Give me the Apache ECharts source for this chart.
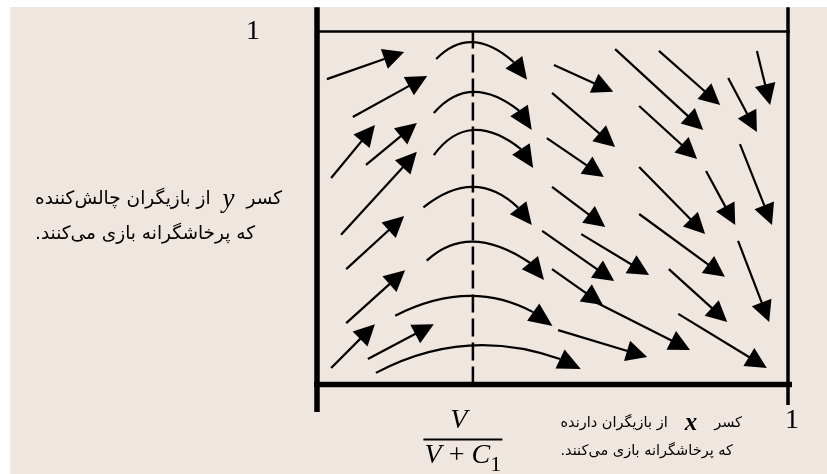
<!DOCTYPE html>
<html>
<head>
<meta charset="utf-8">
<script src="https://cdn.jsdelivr.net/npm/echarts@6/dist/echarts.min.js"></script>
<style>
  html, body { margin: 0; padding: 0; background: #fff; }
  #chart { position: absolute; left: 10px; top: 7px; width: 817px; height: 467px; }
</style>
</head>
<body>
<div id="chart"></div>
<script>
// phase portrait of the owner / challenger hawk-dove game
// x = share of owners playing hawk, y = share of challengers playing hawk
const dashX = 0.331; // V / (V + C1)

const xTickValues = [dashX, 1];
const xTickLabels = [
  '{num|V}{gapN| }\n{bar| }{gap| }\n{v|V}{op| + }{v|C}{sub|1}{gap| }',
  '{one|1}'
];
const yTickValues = [1];
const yTickLabels = ['1'];

// straight arrows: [tailX, tailY, tipX, tipY]
const leftArrows = [
  [0.021, 0.865, 0.185, 0.942],
  [0.076, 0.758, 0.234, 0.874],
  [0.030, 0.585, 0.123, 0.735],
  [0.104, 0.622, 0.212, 0.741],
  [0.051, 0.424, 0.212, 0.659],
  [0.062, 0.327, 0.185, 0.477],
  [0.062, 0.174, 0.187, 0.324],
  [0.030, 0.047, 0.123, 0.171],
  [0.108, 0.072, 0.248, 0.171]
];
const rightArrows = [
  [0.503, 0.905, 0.629, 0.829],
  [0.499, 0.826, 0.633, 0.673],
  [0.488, 0.698, 0.609, 0.588],
  [0.633, 0.950, 0.820, 0.721],
  [0.726, 0.945, 0.856, 0.792],
  [0.873, 0.868, 0.934, 0.715],
  [0.934, 0.945, 0.962, 0.792],
  [0.684, 0.789, 0.807, 0.639],
  [0.684, 0.616, 0.824, 0.426],
  [0.826, 0.605, 0.888, 0.452],
  [0.898, 0.681, 0.966, 0.452],
  [0.499, 0.560, 0.612, 0.446],
  [0.478, 0.435, 0.631, 0.293],
  [0.561, 0.426, 0.705, 0.310],
  [0.684, 0.483, 0.866, 0.305],
  [0.894, 0.407, 0.960, 0.177],
  [0.499, 0.327, 0.607, 0.225],
  [0.595, 0.231, 0.792, 0.098],
  [0.747, 0.327, 0.871, 0.177],
  [0.767, 0.200, 0.955, 0.047],
  [0.512, 0.154, 0.701, 0.078]
];

// curved arrows over the dashed line:
// [startX, startY, apexX, apexY, headBaseX, headBaseY, tipX, tipY]
const arcArrows = [
  [0.253, 0.922, 0.331, 0.970, 0.418, 0.913, 0.446, 0.863],
  [0.248, 0.769, 0.331, 0.829, 0.429, 0.776, 0.456, 0.721],
  [0.248, 0.650, 0.331, 0.721, 0.433, 0.667, 0.459, 0.613],
  [0.226, 0.502, 0.331, 0.560, 0.427, 0.501, 0.456, 0.452],
  [0.233, 0.351, 0.332, 0.405, 0.452, 0.345, 0.482, 0.296],
  [0.166, 0.195, 0.318, 0.251, 0.459, 0.205, 0.500, 0.166],
  [0.125, 0.033, 0.318, 0.110, 0.516, 0.072, 0.560, 0.044]
];

// frame lines, running a little past the unit square
const leftAxisLine = [[0, -0.078], [0, 1.069]];
const bottomAxisLine = [[-0.064, 0], [1.062, 0]];
const topLine = [[-0.042, 1], [1.064, 1]];
const rightLine = [[1, -0.058], [1, 1.069]];
const dashLine = [[dashX, 0], [dashX, 1]];

const yCaption = '{fa|از بازیگران چالش\u200cکننده}{v|y}{fa|کسر}\n{fa|که پرخاشگرانه بازی می\u200cکنند.\u200f}';
const xCaption = '{fa|از بازیگران دارنده}{v|x}{fa|کسر}\n{fa|که پرخاشگرانه بازی می\u200cکنند.\u200f}';

const INK = '#000';
const HEAD_LEN = 21;
const HEAD_W = 10.5;
const SERIF = '"Liberation Serif", "DejaVu Serif", serif';
const FA_FONT = '"DejaVu Sans", sans-serif';

function head(base, tip) {
  const dx = tip[0] - base[0], dy = tip[1] - base[1];
  const len = Math.hypot(dx, dy) || 1;
  const nx = -dy / len * HEAD_W, ny = dx / len * HEAD_W;
  return {
    type: 'polygon',
    shape: { points: [tip, [base[0] + nx, base[1] + ny], [base[0] - nx, base[1] - ny]] },
    style: { fill: INK }
  };
}

function renderStraight(params, api) {
  const a = api.coord([api.value(0), api.value(1)]);
  const b = api.coord([api.value(2), api.value(3)]);
  const len = Math.hypot(b[0] - a[0], b[1] - a[1]);
  const ux = (b[0] - a[0]) / len, uy = (b[1] - a[1]) / len;
  const base = [b[0] - ux * HEAD_LEN, b[1] - uy * HEAD_LEN];
  return {
    type: 'group',
    children: [
      {
        type: 'line',
        shape: { x1: a[0], y1: a[1], x2: base[0] + ux * 3, y2: base[1] + uy * 3 },
        style: { stroke: INK, lineWidth: 2.2 }
      },
      head(base, b)
    ]
  };
}

function renderArc(params, api) {
  const s = api.coord([api.value(0), api.value(1)]);
  const p = api.coord([api.value(2), api.value(3)]);
  const e = api.coord([api.value(4), api.value(5)]);
  const t = api.coord([api.value(6), api.value(7)]);
  // quadratic curve that passes through the apex halfway
  const cx = 2 * p[0] - (s[0] + e[0]) / 2;
  const cy = 2 * p[1] - (s[1] + e[1]) / 2;
  return {
    type: 'group',
    children: [
      {
        type: 'bezierCurve',
        shape: { x1: s[0], y1: s[1], x2: e[0], y2: e[1], cpx1: cx, cpy1: cy },
        style: { stroke: INK, lineWidth: 2.2, fill: null }
      },
      head(e, t)
    ]
  };
}

function frame(data, width, type) {
  return {
    type: 'line',
    data: data,
    symbol: 'none',
    clip: false,
    silent: true,
    lineStyle: { color: INK, width: width, type: type || 'solid', cap: 'butt' },
    z: 1
  };
}

const chart = echarts.init(document.getElementById('chart'));
chart.setOption({
  animation: false,
  backgroundColor: '#f0e6e0',
  grid: { left: 307, right: 39, top: 24.5, bottom: 89.5, outerBoundsMode: 'none' },
  xAxis: {
    type: 'value',
    min: 0,
    max: 1,
    axisLine: { show: false },
    axisTick: { show: false },
    splitLine: { show: false },
    axisLabel: {
      customValues: xTickValues,
      margin: 22,
      formatter: function (value) {
        let best = 0;
        xTickValues.forEach(function (v, i) {
          if (Math.abs(v - value) < Math.abs(xTickValues[best] - value)) best = i;
        });
        return xTickLabels[best];
      },
      rich: {
        num: { fontFamily: SERIF, fontStyle: 'italic', fontSize: 28, lineHeight: 28, color: INK },
        bar: { width: 79, height: 2, lineHeight: 4, backgroundColor: INK },
        v: { fontFamily: SERIF, fontStyle: 'italic', fontSize: 28, lineHeight: 22, color: INK },
        op: { fontFamily: SERIF, fontSize: 28, lineHeight: 22, color: INK },
        sub: { fontFamily: SERIF, fontSize: 22, lineHeight: 22, padding: [19, 0, 0, 0], color: INK },
        gap: { width: 20, fontSize: 10 },
        gapN: { width: 28, fontSize: 10 },
        one: { fontFamily: SERIF, fontSize: 28, lineHeight: 28, color: INK, padding: [0, 0, 0, 8] }
      }
    }
  },
  yAxis: {
    type: 'value',
    min: 0,
    max: 1,
    axisLine: { show: false },
    axisTick: { show: false },
    splitLine: { show: false },
    axisLabel: {
      customValues: yTickValues,
      margin: 57,
      padding: [0, 0, 7, 0],
      fontFamily: SERIF,
      fontSize: 28,
      color: INK,
      formatter: function (value) {
        return yTickLabels[yTickValues.indexOf(value)];
      }
    }
  },
  graphic: [
    {
      type: 'text',
      left: 25,
      top: 179,
      style: {
        text: yCaption,
        align: 'left',
        rich: {
          fa: { fontFamily: FA_FONT, fontSize: 18.5, lineHeight: 35, color: '#1a1a1a' },
          v: { fontFamily: SERIF, fontStyle: 'italic', fontSize: 27, lineHeight: 35, color: '#1a1a1a', padding: [0, 12, 0, 12] }
        }
      }
    },
    {
      type: 'text',
      right: 85,
      top: 404,
      style: {
        text: xCaption,
        align: 'right',
        rich: {
          fa: { fontFamily: FA_FONT, fontSize: 14.5, lineHeight: 28, color: '#1a1a1a' },
          v: { fontFamily: SERIF, fontStyle: 'italic', fontWeight: 'bold', fontSize: 25, lineHeight: 28, color: '#1a1a1a', padding: [0, 17, 0, 17] }
        }
      }
    }
  ],
  series: [
    frame(leftAxisLine, 5.5),
    frame(bottomAxisLine, 5.5),
    frame(topLine, 2.5),
    frame(rightLine, 3.5),
    frame(dashLine, 2.5, [18, 6]),
    { type: 'custom', renderItem: renderStraight, data: leftArrows, silent: true, z: 3 },
    { type: 'custom', renderItem: renderStraight, data: rightArrows, silent: true, z: 3 },
    { type: 'custom', renderItem: renderArc, data: arcArrows, silent: true, z: 3 }
  ]
});
</script>
</body>
</html>
